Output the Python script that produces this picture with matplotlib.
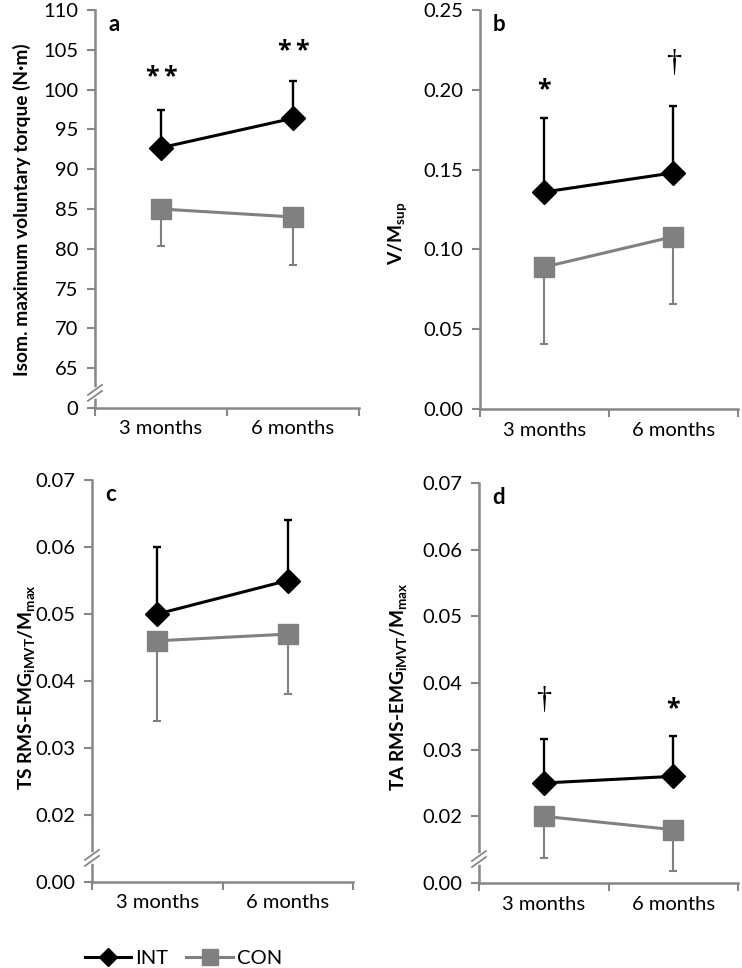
import numpy as np
import matplotlib
matplotlib.use('Agg')
import matplotlib.pyplot as plt
from matplotlib.lines import Line2D

plt.rcParams['font.family'] = ['Lato', 'DejaVu Sans']
plt.rcParams['mathtext.fontset'] = 'custom'
plt.rcParams['mathtext.rm'] = 'Lato'
plt.rcParams['mathtext.bf'] = 'Lato:bold'

# data
months = ['3 months', '6 months']

a_int = [92.7, 96.4]
a_int_err = [4.7, 4.7]
a_con = [85.0, 84.0]
a_con_err = [4.7, 6.0]

b_int = [0.136, 0.148]
b_int_err = [0.0465, 0.042]
b_con = [0.089, 0.108]
b_con_err = [0.048, 0.042]

c_int = [0.050, 0.055]
c_int_err = [0.010, 0.009]
c_con = [0.046, 0.047]
c_con_err = [0.012, 0.009]

d_int = [0.025, 0.026]
d_int_err = [0.0066, 0.006]
d_con = [0.020, 0.018]
d_con_err = [0.0063, 0.0062]

AXC = '#878787'
GRAY = '#808080'

fig = plt.figure(figsize=(7.42, 9.68), dpi=100)


def px_axes(l, t, r, b):
    return fig.add_axes([l / 742, 1 - b / 968, (r - l) / 742, (b - t) / 968])


def breakmark(ax, yval):
    y0, y1 = ax.get_ylim()
    frac = (yval - y0) / (y1 - y0)
    bb = ax.get_position()
    wpx = bb.width * 742
    hpx = bb.height * 968
    dx = 7 / wpx
    dy = 5 / hpx
    gap = 3 / hpx
    ax.plot([0, 0], [frac - gap, frac + gap], color='white', lw=4,
            transform=ax.transAxes, clip_on=False, zorder=5)
    for off in (-gap, gap):
        ax.plot([-dx, dx], [frac + off - dy, frac + off + dy], color=AXC, lw=1.3,
                transform=ax.transAxes, clip_on=False, zorder=6)


def star(ax, x, y, dx=0):
    ax.annotate('*', (x, y), xytext=(dx, -10), textcoords='offset points',
                ha='center', va='baseline', fontsize=18, fontweight='bold',
                family=['Open Sans', 'DejaVu Sans'])


def dagger(ax, x, y):
    ax.annotate('†', (x, y), xytext=(0, 0), textcoords='offset points',
                ha='center', va='center', fontsize=22,
                family=['Liberation Serif', 'DejaVu Serif'])


def panel(ax, ints, int_err, cons, con_err, ylim, yticks, yticklabels,
          ylabel, lab_x, lab_y, letter):
    x = np.array([0.5, 1.5])
    z = np.zeros(2)
    ax.errorbar(x, cons, yerr=[con_err, z], fmt='none', ecolor=GRAY,
                elinewidth=1.5, capsize=3, capthick=1.5, zorder=2)
    ax.errorbar(x, ints, yerr=[z, int_err], fmt='none', ecolor='black',
                elinewidth=1.7, capsize=3, capthick=1.7, zorder=2)
    ax.plot(x, cons, color=GRAY, lw=2.2, marker='s', ms=14, zorder=3)
    ax.plot(x, ints, color='black', lw=2.2, marker='D', ms=12, zorder=4)

    ax.set_xlim(0, 2)
    ax.set_ylim(*ylim)
    ax.set_xticks([0, 1, 2])
    ax.set_xticklabels([])
    ax.set_xticks(x, minor=True)
    ax.set_xticklabels(months, minor=True)
    ax.tick_params(axis='x', which='major', direction='out', length=6,
                   width=1.5, color=AXC)
    ax.tick_params(axis='x', which='minor', length=0, pad=9, labelsize=14.5)
    ax.set_yticks(yticks)
    ax.set_yticklabels(yticklabels)
    ax.tick_params(axis='y', direction='out', length=6, width=1.5,
                   color=AXC, labelsize=14.5, pad=6)
    for sp in ['top', 'right']:
        ax.spines[sp].set_visible(False)
    for sp in ['left', 'bottom']:
        ax.spines[sp].set_color(AXC)
        ax.spines[sp].set_linewidth(1.8)
    ax.set_ylabel(ylabel, fontsize=13.8, fontweight='bold')
    ax.yaxis.set_label_coords(lab_x, lab_y)
    ax.text(0.05, 0.948, letter, transform=ax.transAxes, fontsize=16,
            fontweight='bold', ha='left', va='baseline')


# a
ax_a = px_axes(95, 10, 359, 408)
panel(ax_a, a_int, a_int_err, a_con, a_con_err, (60, 110),
      np.arange(60, 111, 5), ['0'] + [str(v) for v in range(65, 111, 5)],
      'Isom. maximum voluntary torque (N·m)', -0.242, 0.499, 'a')
breakmark(ax_a, 61.9)
for xx, yy in [(0.5, 102.5), (1.5, 105.8)]:
    star(ax_a, xx, yy, -6.5)
    star(ax_a, xx, yy, 6.5)

# b
ax_b = px_axes(480, 10, 738, 409)
bt = np.arange(0, 0.251, 0.05)
panel(ax_b, b_int, b_int_err, b_con, b_con_err, (0, 0.25),
      bt, ['%.2f' % v for v in bt],
      r'V/M$_{\mathbf{sup}}$', -0.27, 0.441, 'b')
star(ax_b, 0.5, 0.205)
dagger(ax_b, 1.5, 0.2166)

# c
ax_c = px_axes(92, 480, 353, 882)
ct = np.round(np.arange(0.01, 0.0701, 0.01), 2)
ctl = ['0.00'] + ['%.2f' % v for v in ct[1:]]
panel(ax_c, c_int, c_int_err, c_con, c_con_err, (0.01, 0.07), ct, ctl,
      r'TS RMS-EMG$_{\mathbf{iMVT}}$/M$_{\mathbf{max}}$', -0.207, 0.485, 'c')
breakmark(ax_c, 0.0136)

# d
ax_d = px_axes(479, 483, 738, 883)
panel(ax_d, d_int, d_int_err, d_con, d_con_err, (0.01, 0.07), ct, ctl,
      r'TA RMS-EMG$_{\mathbf{iMVT}}$/M$_{\mathbf{max}}$', -0.268, 0.49, 'd')
breakmark(ax_d, 0.0136)
dagger(ax_d, 0.5, 0.0373)
star(ax_d, 1.5, 0.0373)

handles = [Line2D([], [], color='black', lw=2.2, marker='D', ms=9),
           Line2D([], [], color=GRAY, lw=2.2, marker='s', ms=11)]
fig.legend(handles, ['INT', 'CON'], loc='center left',
           bbox_to_anchor=(85 / 742, 1 - 958 / 968), ncol=2, frameon=False,
           fontsize=14.5, handlelength=2.3, handletextpad=0.2, columnspacing=0.9,
           borderpad=0, borderaxespad=0)

fig.savefig('out.png', dpi=100)
